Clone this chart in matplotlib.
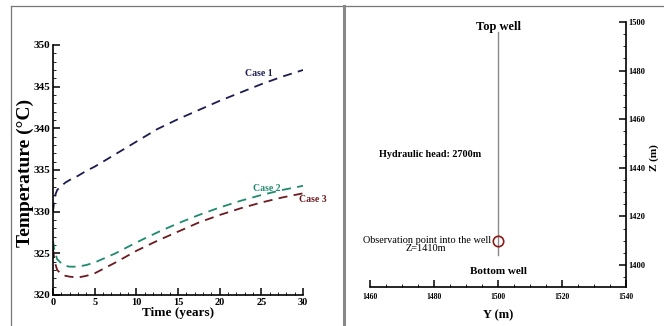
import matplotlib
matplotlib.use("Agg")
import matplotlib.pyplot as plt
from matplotlib.lines import Line2D
from matplotlib.ticker import MultipleLocator

plt.rcParams['font.family'] = ['Liberation Serif', 'DejaVu Serif']

# ---- data ----
time_years = [0, 0.2, 0.5, 1, 1.5, 2, 3, 4, 5, 7.5, 10, 12.5, 15, 17.5, 20, 22.5, 25, 27.5, 30]
case1 = [330.0, 331.8, 332.6, 333.1, 333.5, 333.8, 334.3, 334.9, 335.4, 336.9, 338.4, 339.9,
         341.1, 342.2, 343.3, 344.3, 345.3, 346.2, 347.0]
case2 = [326.5, 325.2, 324.3, 323.8, 323.5, 323.4, 323.4, 323.6, 323.9, 325.0, 326.3, 327.5,
         328.6, 329.6, 330.5, 331.3, 332.0, 332.6, 333.1]
case3 = [325.5, 324.0, 323.0, 322.5, 322.3, 322.2, 322.1, 322.3, 322.6, 323.9, 325.3, 326.5,
         327.6, 328.7, 329.6, 330.4, 331.1, 331.7, 332.2]
case_names = ["Case 1", "Case 2", "Case 3"]
case_colors = ["#1c1c50", "#1f8a6e", "#6b1a1f"]

well_y = [1500, 1500]
well_z = [1404, 1496]
obs_y = 1500
obs_z = 1410

fig = plt.figure(figsize=(6.64, 3.26), dpi=100)
fig.patch.set_facecolor("white")

# ---- left panel ----
ax1 = fig.add_axes([53/664, 1-295/326, 250/664, 250/326])
for vals, col in zip([case1, case2, case3], case_colors):
    ln, = ax1.plot(time_years, vals, color=col, lw=1.3)
    ln.set_dashes((5, 3.5))
ax1.set_xlim(0, 30)
ax1.set_ylim(320, 350)
for s in ["top", "right"]:
    ax1.spines[s].set_visible(False)
for s in ["left", "bottom"]:
    ax1.spines[s].set_linewidth(1.2)
ax1.xaxis.set_major_locator(MultipleLocator(5))
ax1.xaxis.set_minor_locator(MultipleLocator(1))
ax1.yaxis.set_major_locator(MultipleLocator(5))
ax1.yaxis.set_minor_locator(MultipleLocator(1))
ax1.tick_params(which="major", direction="in", length=5, width=1.1, pad=2)
ax1.tick_params(axis="y", which="major", labelsize=8)
ax1.tick_params(axis="x", which="major", labelsize=7.5)
ax1.tick_params(which="minor", direction="in", length=2.5, width=0.6)
for lbl in ax1.get_xticklabels() + ax1.get_yticklabels():
    lbl.set_fontweight("bold")
ax1.set_xlabel("Time (years)", fontsize=9.5, fontweight="bold", labelpad=0)
ax1.set_ylabel("Temperature (\u00b0C)", fontsize=14, fontweight="bold")
ax1.yaxis.set_label_coords(-0.076, 0.49)
ax1.text(26.4, 346.0, case_names[0], color=case_colors[0], fontsize=7, fontweight="bold",
         ha="right", va="bottom")
ax1.text(24.0, 332.2, case_names[1], color=case_colors[1], fontsize=7, fontweight="bold",
         ha="left", va="bottom")
ax1.text(29.5, 331.5, case_names[2], color=case_colors[2], fontsize=7, fontweight="bold",
         ha="left", va="center")

# ---- right panel ----
ax2 = fig.add_axes([370/664, 1-287/326, 256/664, 265/326])
ax2.set_xlim(1460, 1540)
ax2.set_ylim(1391, 1500)
ax2.plot(well_y, well_z, color="#8a8a8a", lw=1.0)
ax2.plot([obs_y], [obs_z], marker="o", ms=7.5, mfc="none", mec="#8b1a1a", mew=1.2)
for s in ["top", "left"]:
    ax2.spines[s].set_visible(False)
for s in ["right", "bottom"]:
    ax2.spines[s].set_linewidth(1.2)
ax2.yaxis.tick_right()
ax2.yaxis.set_label_position("right")
ax2.xaxis.set_major_locator(MultipleLocator(20))
ax2.xaxis.set_minor_locator(MultipleLocator(5))
ax2.yaxis.set_major_locator(MultipleLocator(20))
ax2.yaxis.set_minor_locator(MultipleLocator(5))
ax2.tick_params(which="major", direction="in", length=5, width=1.1, labelsize=6, pad=2)
ax2.tick_params(which="minor", direction="in", length=2.5, width=0.6)
ax2.tick_params(axis="x", which="major", labelsize=5.5, pad=4)
for lbl in ax2.get_xticklabels() + ax2.get_yticklabels():
    lbl.set_fontweight("bold")
ax2.set_xlabel("Y (m)", fontsize=9, fontweight="bold", labelpad=6)
ax2.set_ylabel("Z (m)", fontsize=8, fontweight="bold", rotation=90, va="center", ha="center")
ax2.yaxis.set_label_coords(1.11, 0.49)
ax2.text(1500, 1498, "Top well", fontsize=9, fontweight="bold", ha="center", va="center")
ax2.text(1500, 1397.5, "Bottom well", fontsize=8, fontweight="bold", ha="center", va="center",
         bbox=dict(facecolor="white", edgecolor="none", pad=0.5))
ax2.text(1478.7, 1445.7, "Hydraulic head: 2700m", fontsize=7.3, fontweight="bold",
         ha="center", va="center")
ax2.text(1497.8, 1410.3, "Observation point into the well", fontsize=7.4, ha="right", va="center")
ax2.text(1477.5, 1407.0, "Z=1410m", fontsize=7.4, ha="center", va="center")

# ---- frame lines ----
fig.add_artist(Line2D([11/664, 1.0], [1-6/326, 1-6/326], color="#777777", lw=0.9))
fig.add_artist(Line2D([11/664, 11/664], [0, 1-6/326], color="#777777", lw=0.9))
fig.add_artist(Line2D([343.5/664, 343.5/664], [0, 1-6/326], color="#888888", lw=2.2))

fig.savefig("out.png", dpi=100, facecolor="white")
